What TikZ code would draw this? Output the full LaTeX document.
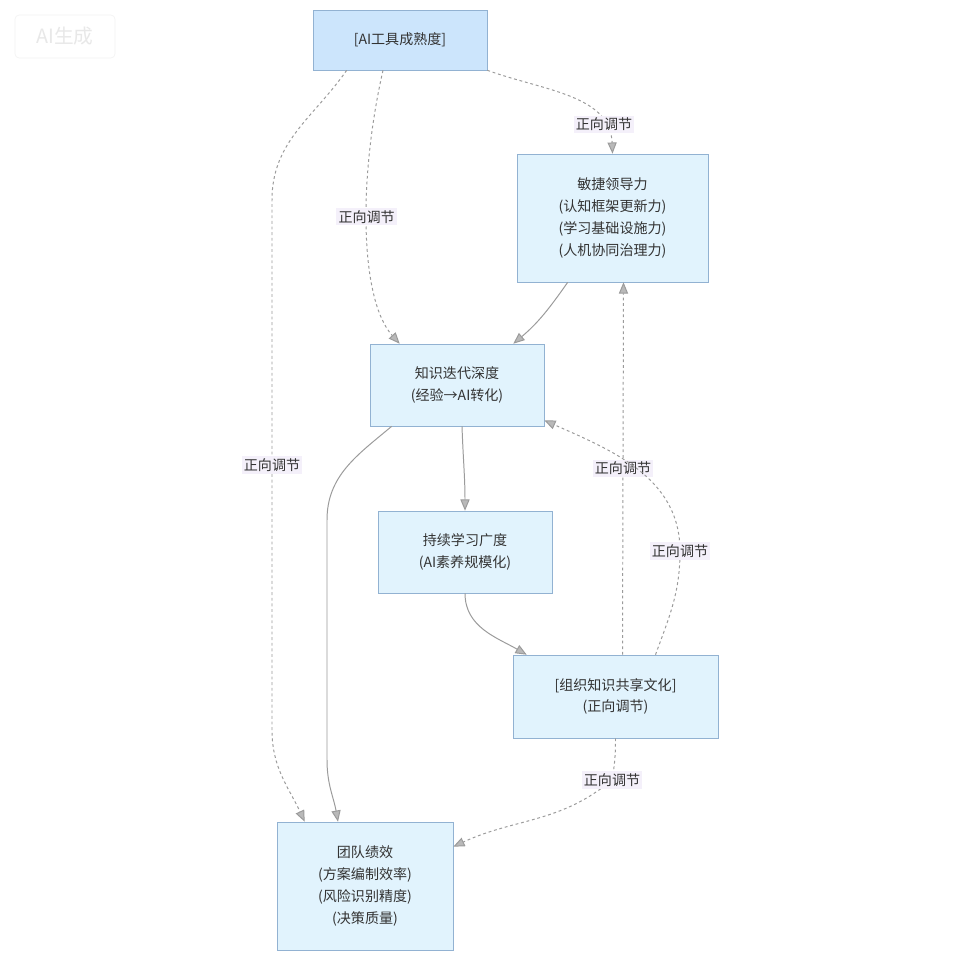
\documentclass[tikz,border=0pt]{standalone}
\usepackage{fontspec}
\setmainfont{Noto Sans CJK SC}
\usetikzlibrary{arrows.meta,calc}
\definecolor{boxfill}{RGB}{225,243,253}
\definecolor{topfill}{RGB}{204,229,252}
\definecolor{boxline}{RGB}{146,178,210}
\definecolor{edgegray}{RGB}{155,155,155}
\definecolor{tagfill}{RGB}{244,240,250}
\definecolor{txt}{RGB}{51,51,51}

\begin{document}
\begin{tikzpicture}
	[x=0.025cm,y=0.025cm,font=\fontsize{10}{15.5}\selectfont,
	every node/.style={text=txt},
	blk/.style={rectangle,draw=boxline,fill=boxfill,align=center,inner sep=2pt},
	tag/.style={fill=tagfill,inner sep=1.5pt,font=\fontsize{10}{12}\selectfont},
	link/.style={draw=edgegray,line width=0.7pt,-{Triangle[length=8pt,width=6.5pt,fill=gray!55]}},
	modline/.style={link,dash pattern=on 2pt off 2pt}]
	\fill[white] (0,0) rectangle (960,-960);
	\useasboundingbox (0,0) rectangle (960,-960);

	\node[draw=gray!10,rounded corners=3pt,minimum width=2.5cm,minimum height=1.075cm,text=gray!18,font=\fontsize{14}{14}\selectfont] (wm) at (65,-36.5) {AI生成};

	\node[blk,fill=topfill,minimum width=4.35cm,minimum height=1.5cm] (tool) at (400,-40) {[AI工具成熟度]};
	\node[blk,minimum width=4.775cm,minimum height=3.2cm] (lead) at (612.5,-218) {敏捷领导力\\(认知框架更新力)\\(学习基础设施力)\\(人机协同治理力)};
	\node[blk,minimum width=4.35cm,minimum height=2.05cm] (depth) at (457,-385) {知识迭代深度\\(经验→AI转化)};
	\node[blk,minimum width=4.35cm,minimum height=2.05cm] (breadth) at (465,-552) {持续学习广度\\(AI素养规模化)};
	\node[blk,minimum width=5.125cm,minimum height=2.075cm] (culture) at (615.5,-696.5) {[组织知识共享文化]\\(正向调节)};
	\node[blk,minimum width=4.4cm,minimum height=3.2cm] (perf) at (365,-886) {团队绩效\\(方案编制效率)\\(风险识别精度)\\(决策质量)};

	% AI tool maturity as moderator
	\draw[modline] (tool.south east) to[out=-20,in=92] node[tag,pos=0.8]{正向调节} (lead.north);
	\draw[modline] ($(tool.south)+(-17,0)$) .. controls (358,-180) and (360,-300) .. node[tag,pos=0.45]{正向调节} ($(depth.north west)+(30,0)$);
	\draw[modline] ($(tool.south west)+(34,0)$) to[out=-125,in=90] (272,-200) -- node[tag]{正向调节} (272,-730) to[out=-90,in=115] ($(perf.north west)+(28,0)$);

	% main paths
	\draw[link] ($(lead.south west)+(51,0)$) to[out=-125,in=40] ($(depth.north east)+(-31,0)$);
	\draw[link] ($(depth.south)+(5,0)$) to[out=-88,in=90] (breadth.north);
	\draw[link] ($(depth.south west)+(22,0)$) to[out=-140,in=90] (327,-520) -- (327,-760) to[out=-90,in=100] ($(perf.north)+(-27,0)$);
	\draw[link] (breadth.south) to[out=-90,in=150] ($(culture.north west)+(14,0)$);

	% sharing culture as moderator
	\draw[modline] ($(culture.north)+(7,0)$) -- node[tag]{正向调节} ($(lead.south)+(11,0)$);
	\draw[modline] ($(culture.north)+(40,0)$) to[out=70,in=-90] (680,-551) node[tag]{正向调节} to[out=90,in=-24] ($(depth.south east)+(0,6)$);
	\draw[modline] (culture.south) to[out=-90,in=80] (612,-780) node[tag]{正向调节} to[out=-140,in=25] ($(perf.north east)+(0,-25)$);
\end{tikzpicture}
\end{document}
